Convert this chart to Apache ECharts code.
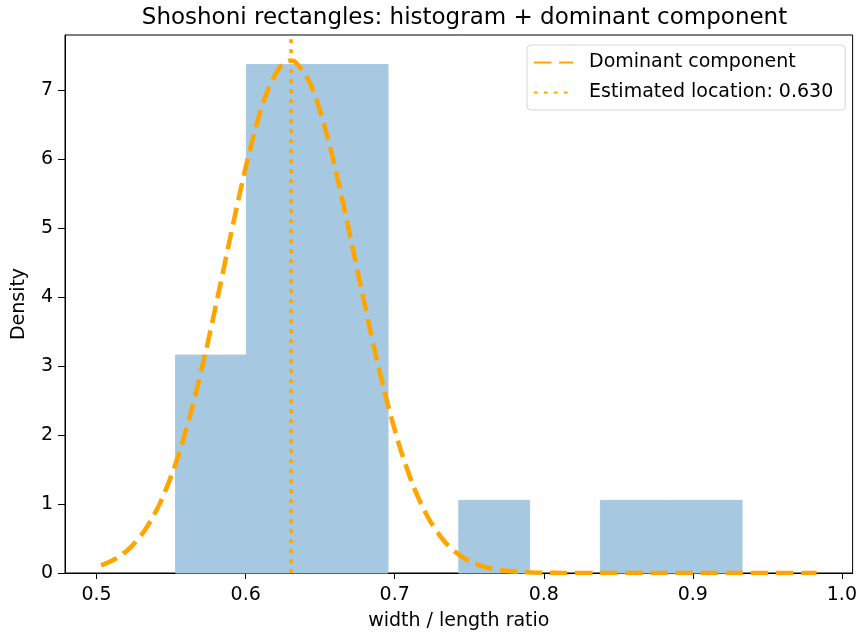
<!DOCTYPE html>
<html>
<head>
<meta charset="utf-8">
<script src="https://cdn.jsdelivr.net/npm/echarts@6/dist/echarts.min.js"></script>
<style>
  html, body { margin: 0; padding: 0; background: #fff; }
  #chart { width: 860px; height: 636px; }
</style>
</head>
<body>
<div id="chart"></div>
<script>
// histogram bins (density)
const binEdges = [0.553, 0.6005, 0.648, 0.6955, 0.743, 0.7905, 0.838, 0.8855, 0.933]
const binDensity = [3.158, 7.368, 7.368, 0, 1.053, 0, 1.053, 1.053]

// dominant component curve
const curveX = [0.503, 0.513, 0.523, 0.533, 0.543, 0.553, 0.563, 0.573, 0.583, 0.593,
  0.603, 0.613, 0.623, 0.630, 0.633, 0.643, 0.653, 0.663, 0.673, 0.683, 0.693,
  0.703, 0.713, 0.723, 0.733, 0.743, 0.753, 0.763, 0.773, 0.783, 0.793, 0.803,
  0.813, 0.833, 0.883, 0.933, 0.983]
const curveY = [0.111, 0.210, 0.376, 0.640, 1.034, 1.585, 2.307, 3.187, 4.179, 5.201,
  6.145, 6.891, 7.335, 7.426, 7.413, 7.110, 6.473, 5.595, 4.590, 3.574, 2.641,
  1.854, 1.234, 0.780, 0.468, 0.267, 0.144, 0.074, 0.036, 0.017, 0.007, 0.003,
  0.001, 0, 0, 0, 0]

const estLocation = 0.630
const xTicks = [0.5, 0.6, 0.7, 0.8, 0.9, 1.0]
const yTicks = [0, 1, 2, 3, 4, 5, 6, 7]

const FONT = 'DejaVu Sans'
const FS = 19
const ORANGE = '#ffa500'
const BAR = '#a6c9e1'
const DASHED = { color: ORANGE, width: 4.6, type: [17.5, 7.6], cap: 'butt' }
const DOTTED = { color: ORANGE, width: 3.6, type: [3.7, 6.3], cap: 'butt' }

const histData = binDensity.map((d, i) => [binEdges[i], binEdges[i + 1], d])
const curveData = curveX.map((x, i) => [x, curveY[i]])
const locName = 'Estimated location: ' + estLocation.toFixed(3)

const chart = echarts.init(document.getElementById('chart'))
chart.setOption({
  animation: false,
  textStyle: { fontFamily: FONT },
  title: {
    text: 'Shoshoni rectangles: histogram + dominant component',
    left: 459.5, textAlign: 'center', top: 2,
    textStyle: { fontFamily: FONT, fontSize: 23, fontWeight: 'normal', color: '#000' },
  },
  grid: { left: 65, right: 6, top: 35, bottom: 63, show: true, borderColor: '#000', borderWidth: 1 },
  legend: {
    orient: 'vertical', left: 527, top: 45,
    padding: [8, 12, 8, 6], itemGap: 11, itemWidth: 39, itemHeight: 19,
    backgroundColor: '#fff', borderColor: '#d6d6d6', borderWidth: 1, borderRadius: 4,
    itemStyle: { opacity: 0 },
    textStyle: { fontFamily: FONT, fontSize: FS, color: '#000', padding: [0, 0, 0, 11] },
    data: ['Dominant component', locName],
  },
  xAxis: {
    type: 'value', min: 0.4788, max: 1.0072,
    name: 'width / length ratio', nameLocation: 'middle', nameGap: 39,
    nameTextStyle: { fontFamily: FONT, fontSize: FS, color: '#000' },
    axisLine: { show: true, lineStyle: { color: '#000', width: 1 } },
    axisTick: { show: true, length: 6, customValues: xTicks, lineStyle: { color: '#000' } },
    axisLabel: { customValues: xTicks, margin: 13, fontSize: FS, color: '#000',
      formatter: v => v.toFixed(1) },
    splitLine: { show: false },
  },
  yAxis: {
    type: 'value', min: 0, max: 7.797,
    name: 'Density', nameLocation: 'middle', nameGap: 36,
    nameTextStyle: { fontFamily: FONT, fontSize: FS, color: '#000' },
    axisLine: { show: true, lineStyle: { color: '#000', width: 1 } },
    axisTick: { show: true, length: 7, customValues: yTicks, lineStyle: { color: '#000' } },
    axisLabel: { customValues: yTicks, margin: 12, fontSize: FS, color: '#000' },
    splitLine: { show: false },
  },
  series: [
    {
      name: 'histogram', type: 'custom', data: histData, z: 1,
      encode: { x: [0, 1], y: 2 },
      renderItem: (params, api) => {
        if (!api.value(2)) return null
        const p0 = api.coord([api.value(0), api.value(2)])
        const p1 = api.coord([api.value(1), 0])
        return {
          type: 'rect',
          shape: { x: p0[0], y: p0[1], width: p1[0] - p0[0], height: p1[1] - p0[1] },
          style: { fill: BAR, stroke: BAR, lineWidth: 1 },
        }
      },
    },
    {
      name: 'Dominant component', type: 'line', data: curveData, z: 3,
      smooth: 0.3, symbol: 'none',
      lineStyle: DASHED, itemStyle: { color: ORANGE },
    },
    {
      name: locName, type: 'line', data: [], z: 4, symbol: 'none',
      lineStyle: DOTTED, itemStyle: { color: ORANGE },
      markLine: {
        silent: true, symbol: 'none', label: { show: false },
        lineStyle: DOTTED,
        data: [{ xAxis: estLocation }],
      },
    },
  ],
})
</script>
</body>
</html>
